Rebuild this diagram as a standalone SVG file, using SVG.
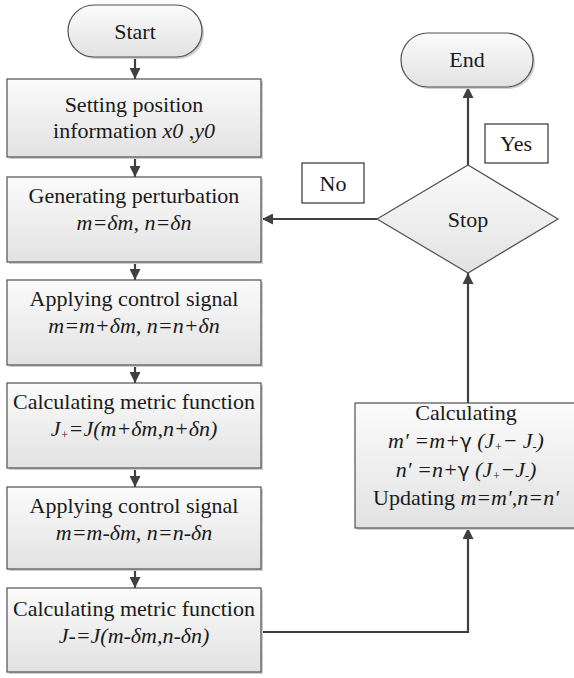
<svg xmlns="http://www.w3.org/2000/svg" width="574" height="678" viewBox="0 0 574 678">
<style>
.box{fill:url(#g);stroke:#505050;stroke-width:1.2}
.sh{fill:#cfcfcf}
.lbl{fill:#fff;stroke:#333;stroke-width:1.2}
.t{font-family:"Liberation Serif","Times New Roman",serif;font-size:22px;fill:#1a1a1a;text-anchor:middle}
.i{font-style:italic}
.sub{font-size:12px}
.g{font-family:"DejaVu Sans","Liberation Sans",sans-serif;font-style:normal;font-size:20px}
.c{fill:none;stroke:#404040;stroke-width:2.2}
</style>
<defs>
<linearGradient id="g" x1="0" y1="0" x2="0" y2="1">
<stop offset="0" stop-color="#fbfbfb"/>
<stop offset="1" stop-color="#e2e2e2"/>
</linearGradient>
<marker id="ah" viewBox="0 0 10 10" refX="10" refY="5" markerWidth="5" markerHeight="5" orient="auto" markerUnits="strokeWidth">
<path d="M0,0 L10,5 L0,10 z" fill="#404040"/>
</marker>
</defs>

<g id="connectors">
<line class="c" x1="135" y1="57" x2="135" y2="79" marker-end="url(#ah)"/>
<line class="c" x1="135" y1="157" x2="135" y2="177" marker-end="url(#ah)"/>
<line class="c" x1="135" y1="262" x2="135" y2="280" marker-end="url(#ah)"/>
<line class="c" x1="135" y1="365" x2="135" y2="383" marker-end="url(#ah)"/>
<line class="c" x1="135" y1="468" x2="135" y2="487" marker-end="url(#ah)"/>
<line class="c" x1="135" y1="569" x2="135" y2="588" marker-end="url(#ah)"/>
<polyline class="c" points="261,632 468,632 468,528" marker-end="url(#ah)"/>
<line class="c" x1="468" y1="403" x2="468" y2="273" marker-end="url(#ah)"/>
<line class="c" x1="468" y1="165" x2="468" y2="87" marker-end="url(#ah)"/>
<line class="c" x1="377" y1="219" x2="262" y2="219" marker-end="url(#ah)"/>
</g>

<g id="start">
<rect class="sh" x="70" y="7" width="134" height="52" rx="26"/>
<rect class="box" x="68" y="5" width="134" height="52" rx="26"/>
<text class="t" x="135" y="39">Start</text>
</g>

<g id="setting">
<rect class="sh" x="9" y="81" width="254" height="78"/>
<rect class="box" x="7" y="79" width="254" height="78"/>
<text class="t" x="134" y="112">Setting position</text>
<text class="t" x="134" y="138">information <tspan class="i">x0 ,y0</tspan></text>
</g>

<g id="perturb">
<rect class="sh" x="9" y="179" width="254" height="85"/>
<rect class="box" x="7" y="177" width="254" height="85"/>
<text class="t" x="134" y="203">Generating perturbation</text>
<text class="t i" x="134" y="230">m=δm, n=δn</text>
</g>

<g id="apply1">
<rect class="sh" x="9" y="282" width="254" height="85"/>
<rect class="box" x="7" y="280" width="254" height="85"/>
<text class="t" x="134" y="306">Applying control signal</text>
<text class="t i" x="134" y="333">m=m+δm, n=n+δn</text>
</g>

<g id="metric1">
<rect class="sh" x="9" y="385" width="254" height="85"/>
<rect class="box" x="7" y="383" width="254" height="85"/>
<text class="t" x="134" y="409">Calculating metric function</text>
<text class="t i" x="134" y="436">J<tspan class="sub" dy="3">+</tspan><tspan dy="-3">=J(m+δm,n+δn)</tspan></text>
</g>

<g id="apply2">
<rect class="sh" x="9" y="489" width="254" height="82"/>
<rect class="box" x="7" y="487" width="254" height="82"/>
<text class="t" x="134" y="513">Applying control signal</text>
<text class="t i" x="134" y="540">m=m-δm, n=n-δn</text>
</g>

<g id="metric2">
<rect class="sh" x="9" y="590" width="254" height="84"/>
<rect class="box" x="7" y="588" width="254" height="84"/>
<text class="t" x="134" y="616">Calculating metric function</text>
<text class="t i" x="134" y="643">J-=J(m-δm,n-δn)</text>
</g>

<g id="update">
<rect class="sh" x="357" y="405" width="220" height="125"/>
<rect class="box" x="355" y="403" width="220" height="125"/>
<text class="t" x="466" y="420">Calculating</text>
<text class="t i" x="466" y="448">m′ =m+<tspan class="g">γ</tspan> (J<tspan class="sub" dy="3">+</tspan><tspan dy="-3">− J</tspan><tspan class="sub" dy="3">-</tspan><tspan dy="-3">)</tspan></text>
<text class="t i" x="466" y="477">n′ =n+<tspan class="g">γ</tspan> (J<tspan class="sub" dy="3">+</tspan><tspan dy="-3">−J</tspan><tspan class="sub" dy="3">-</tspan><tspan dy="-3">)</tspan></text>
<text class="t" x="466" y="505">Updating <tspan class="i">m=m′,n=n′</tspan></text>
</g>

<g id="stop">
<polygon class="box" points="377,219 468,165 558,219 468,273"/>
<text class="t" x="468" y="227">Stop</text>
</g>

<g id="end">
<rect class="sh" x="403" y="35" width="132" height="54" rx="27"/>
<rect class="box" x="401" y="33" width="132" height="54" rx="27"/>
<text class="t" x="467" y="67">End</text>
</g>

<g id="yes">
<rect class="lbl" x="485" y="124" width="63" height="39"/>
<text class="t" x="516" y="151">Yes</text>
</g>

<g id="no">
<rect class="lbl" x="302" y="163" width="62" height="40"/>
<text class="t" x="333" y="191">No</text>
</g>
</svg>
